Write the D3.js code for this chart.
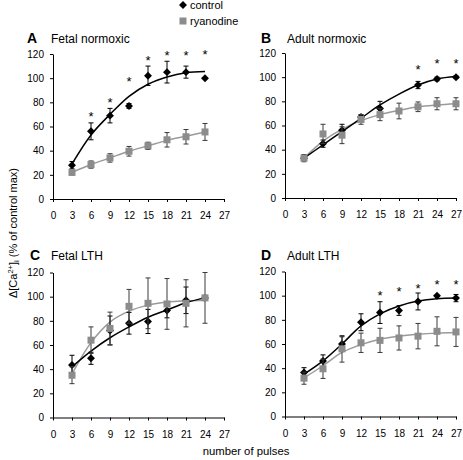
<!DOCTYPE html>
<html><head><meta charset="utf-8">
<script src="https://cdn.jsdelivr.net/npm/d3@7/dist/d3.min.js"></script>
<style>
html,body{margin:0;padding:0;background:#fff;}
svg{display:block;font-family:"Liberation Sans",Arial,sans-serif;}
</style></head>
<body>
<svg id="chart" width="463" height="460"></svg>
<script>
// ---------- data ----------
const xTicks = [0,3,6,9,12,15,18,21,24,27];
const yTicks = [0,20,40,60,80,100,120];
const seriesNames = ["control","ryanodine"];
const panelLetters = ["A","B","C","D"];
const panelTitles = ["Fetal normoxic","Adult normoxic","Fetal LTH","Adult LTH"];

// A: Fetal normoxic
const pulsesA = [3,6,9,12,15,18,21,24];
const ctrlA = [28,56,69,77,102,105,105,100];
const ctrlErrA = [3,7,6,2,8,9,5,0];
const ryanA = [22,28.5,34,39.5,44,49,51.5,55.5];
const ryanErrA = [2,3,3.5,4,3,6,6,7];
const ctrlFitA = [29,53,70,85,95,101,104.5,105.5];
const ryanFitA = [22,28.5,34,39.5,44,48.5,52,55.5];
const starXA = [6,9,12,15,18,21,24];
const starYA = [70,82,99,117,120.5,121,122];

// B: Adult normoxic
const pulsesB = [3,6,9,12,15,18,21,24,27];
const ctrlB = [33,45,56,67,74,null,93.5,98.5,100];
const ctrlErrB = [2,3,5,2,6,0,3,1.5,1];
const ryanB = [33,53,52,65,69,72,75.5,78,78];
const ryanErrB = [3,8,7,4,5,6.5,4,5,5];
const ctrlFitB = [33,44,55,66,77,86,93.5,98.5,100.5];
const ryanFitB = [33,47,57,64,69,72.5,75.5,77,78];
const starXB = [21,24,27];
const starYB = [108.7,113.4,113.4];

// C: Fetal LTH
const pulsesC = [3,6,9,12,15,18,21,24];
const ctrlC = [43.5,49,72,78,79.5,88.5,97,99];
const ctrlErrC = [8,5,12,9,10,6,11,2];
const ryanC = [35,64,73.7,92,94.5,94,94.5,99];
const ryanErrC = [7,11,13.5,14,21,21,19.5,21];
const ctrlFitC = [42,55,66,75,83,89,95,99];
const ryanFitC = [36,62,79,88,93,95.5,96.5,97];
const starXC = [];
const starYC = [];

// D: Adult LTH
const pulsesD = [3,6,9,12,15,18,21,24,27];
const ctrlD = [36.4,46,60,78,86,87.7,95.2,100,98];
const ctrlErrD = [4,5,6,7,9,4,7,0,3];
const ryanD = [31.7,39.5,56,61,63,65,66.5,70.5,70];
const ryanErrD = [5,8,11,8,10,10,10.5,12,12];
const ctrlFitD = [35,46,60,75,85,91.5,95.5,97.5,98];
const ryanFitD = [32,42,53,59.5,64,66.5,68,69,69.5];
const starXD = [15,18,21,24,27];
const starYD = [102,105.7,107.6,111.7,111.7];

// ---------- layout ----------
const panels = [
  {pulses:pulsesA,ctrl:ctrlA,ctrlErr:ctrlErrA,ryan:ryanA,ryanErr:ryanErrA,ctrlFit:ctrlFitA,ryanFit:ryanFitA,starX:starXA,starY:starYA,
   x0:53,x1:224,y0:199,y1:54,lx:27,tx:51,ty:43},
  {pulses:pulsesB,ctrl:ctrlB,ctrlErr:ctrlErrB,ryan:ryanB,ryanErr:ryanErrB,ctrlFit:ctrlFitB,ryanFit:ryanFitB,starX:starXB,starY:starYB,
   x0:285,x1:456,y0:198,y1:53,lx:261,tx:287,ty:43},
  {pulses:pulsesC,ctrl:ctrlC,ctrlErr:ctrlErrC,ryan:ryanC,ryanErr:ryanErrC,ctrlFit:ctrlFitC,ryanFit:ryanFitC,starX:starXC,starY:starYC,
   x0:53,x1:224,y0:417.5,y1:272.5,lx:30,tx:51,ty:260},
  {pulses:pulsesD,ctrl:ctrlD,ctrlErr:ctrlErrD,ryan:ryanD,ryanErr:ryanErrD,ctrlFit:ctrlFitD,ryanFit:ryanFitD,starX:starXD,starY:starYD,
   x0:285,x1:456,y0:416.5,y1:271.5,lx:261,tx:287,ty:260}
];

const CTRL = "#000";
const RYAN = "#8c8c8c";
const RYAN_LINE = "#9a9a9a";
const RYAN_ERR = "#3a3a3a";

const svg = d3.select("#chart");

panels.forEach((p,i)=>{
  const x = d3.scaleLinear().domain([0,27]).range([p.x0,p.x1]);
  const y = d3.scaleLinear().domain([0,120]).range([p.y0,p.y1]);
  const g = svg.append("g");

  // axes
  const xa = g.append("g").attr("transform",`translate(0,${p.y0})`)
    .call(d3.axisBottom(x).tickValues(xTicks).tickSize(3).tickPadding(10).tickSizeOuter(0));
  const ya = g.append("g").attr("transform",`translate(${p.x0},0)`)
    .call(d3.axisLeft(y).tickValues(yTicks).tickSize(3).tickPadding(6).tickSizeOuter(0));
  [xa,ya].forEach(a=>{
    a.selectAll("path,line").attr("stroke","#000").attr("stroke-width",1);
    a.selectAll("text").attr("font-size",10).attr("fill","#000").attr("font-family","Liberation Sans, Arial, sans-serif");
  });

  // titles
  g.append("text").attr("x",p.lx).attr("y",p.ty).attr("font-size",14).attr("font-weight","bold").text(panelLetters[i]);
  g.append("text").attr("x",p.tx).attr("y",p.ty).attr("font-size",12).text(panelTitles[i]);

  const line = d3.line().x((d,j)=>x(p.pulses[j])).y(d=>y(d)).curve(d3.curveCatmullRom.alpha(0.5));

  // fit curves
  g.append("path").attr("d",line(p.ryanFit)).attr("fill","none").attr("stroke",RYAN_LINE).attr("stroke-width",1.5);
  g.append("path").attr("d",line(p.ctrlFit)).attr("fill","none").attr("stroke",CTRL).attr("stroke-width",1.5);

  function errBars(vals,errs,color){
    vals.forEach((v,j)=>{
      if(v==null || !errs[j]) return;
      const cx = x(p.pulses[j]);
      const yt = y(v+errs[j]), yb = y(v-errs[j]);
      g.append("line").attr("x1",cx).attr("x2",cx).attr("y1",yt).attr("y2",yb).attr("stroke",color).attr("stroke-width",1);
      [yt,yb].forEach(yy=>g.append("line").attr("x1",cx-2.5).attr("x2",cx+2.5).attr("y1",yy).attr("y2",yy).attr("stroke",color).attr("stroke-width",1));
    });
  }
  errBars(p.ctrl,p.ctrlErr,CTRL);
  // control markers (diamonds)
  p.ctrl.forEach((v,j)=>{
    if(v==null) return;
    g.append("path").attr("d",d3.symbol(d3.symbolDiamond2,40)())
     .attr("transform",`translate(${x(p.pulses[j])},${y(v)})`).attr("fill",CTRL);
  });
  errBars(p.ryan,p.ryanErr,RYAN_ERR);
  // ryanodine markers (squares)
  p.ryan.forEach((v,j)=>{
    g.append("rect").attr("x",x(p.pulses[j])-3.5).attr("y",y(v)-3.5).attr("width",7).attr("height",7).attr("fill",RYAN);
  });

  // significance stars
  p.starX.forEach((sx,j)=>{
    g.append("text").attr("x",x(sx)).attr("y",y(p.starY[j])+7).attr("text-anchor","middle")
     .attr("font-size",13).text("*");
  });
});

// legend
const lg = svg.append("g");
lg.append("path").attr("d",d3.symbol(d3.symbolDiamond2,40)()).attr("transform","translate(183,5)").attr("fill",CTRL);
lg.append("text").attr("x",190).attr("y",9).attr("font-size",11).text(seriesNames[0]);
lg.append("rect").attr("x",179.5).attr("y",17.5).attr("width",7).attr("height",7).attr("fill",RYAN);
lg.append("text").attr("x",190).attr("y",25).attr("font-size",11).text(seriesNames[1]);

// axis labels
const yl = svg.append("text").attr("transform","translate(17,233) rotate(-90)").attr("text-anchor","middle").attr("font-size",11);
yl.append("tspan").text("Δ[Ca");
yl.append("tspan").attr("font-size",7.5).attr("dy",-4).text("2+");
yl.append("tspan").attr("dy",4).text("]");
yl.append("tspan").attr("font-size",7.5).attr("dy",2).text("i");
yl.append("tspan").attr("dy",-2).text(" (% of control max)");

svg.append("text").attr("x",246).attr("y",455).attr("text-anchor","middle").attr("font-size",11.3).text("number of pulses");
</script>
</body></html>
